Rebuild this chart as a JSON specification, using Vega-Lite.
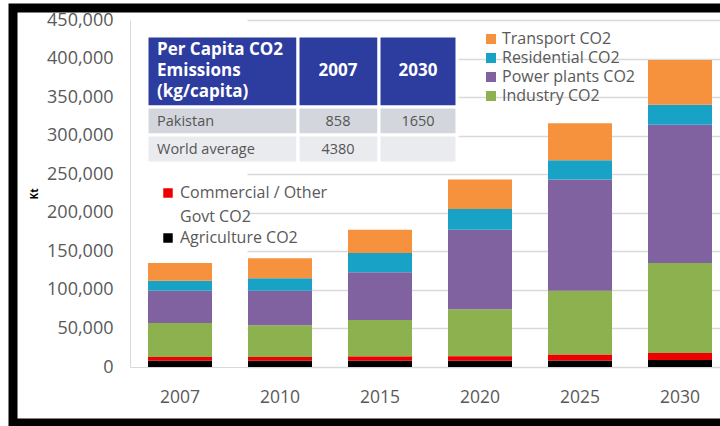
{
  "$schema": "https://vega.github.io/schema/vega-lite/v6.json",
  "autosize": {"type": "none"},
  "width": 707,
  "height": 415,
  "padding": {"left": 13, "top": 8, "right": 0, "bottom": 3},
  "background": "white",
  "config": {
    "font": "Open Sans",
    "view": {"fill": "white", "stroke": "black", "strokeWidth": 9, "strokeDash": [707, 415, 1200]},
    "style": {"guide-label": {"lineHeight": 24}}
  },
  "datasets": {
    "emissions": [
      {"year": "2007", "sector": "Agriculture CO2", "value": 8000},
      {"year": "2007", "sector": "Commercial / Other Govt CO2", "value": 5000},
      {"year": "2007", "sector": "Industry CO2", "value": 44000},
      {"year": "2007", "sector": "Power plants CO2", "value": 42000},
      {"year": "2007", "sector": "Residential CO2", "value": 13000},
      {"year": "2007", "sector": "Transport CO2", "value": 23000},
      {"year": "2010", "sector": "Agriculture CO2", "value": 8000},
      {"year": "2010", "sector": "Commercial / Other Govt CO2", "value": 5000},
      {"year": "2010", "sector": "Industry CO2", "value": 41000},
      {"year": "2010", "sector": "Power plants CO2", "value": 45000},
      {"year": "2010", "sector": "Residential CO2", "value": 16000},
      {"year": "2010", "sector": "Transport CO2", "value": 26000},
      {"year": "2015", "sector": "Agriculture CO2", "value": 8000},
      {"year": "2015", "sector": "Commercial / Other Govt CO2", "value": 5500},
      {"year": "2015", "sector": "Industry CO2", "value": 47500},
      {"year": "2015", "sector": "Power plants CO2", "value": 62000},
      {"year": "2015", "sector": "Residential CO2", "value": 25000},
      {"year": "2015", "sector": "Transport CO2", "value": 30000},
      {"year": "2020", "sector": "Agriculture CO2", "value": 8000},
      {"year": "2020", "sector": "Commercial / Other Govt CO2", "value": 6000},
      {"year": "2020", "sector": "Industry CO2", "value": 61000},
      {"year": "2020", "sector": "Power plants CO2", "value": 103000},
      {"year": "2020", "sector": "Residential CO2", "value": 27000},
      {"year": "2020", "sector": "Transport CO2", "value": 38000},
      {"year": "2025", "sector": "Agriculture CO2", "value": 8500},
      {"year": "2025", "sector": "Commercial / Other Govt CO2", "value": 7500},
      {"year": "2025", "sector": "Industry CO2", "value": 83000},
      {"year": "2025", "sector": "Power plants CO2", "value": 144000},
      {"year": "2025", "sector": "Residential CO2", "value": 25000},
      {"year": "2025", "sector": "Transport CO2", "value": 48000},
      {"year": "2030", "sector": "Agriculture CO2", "value": 9000},
      {"year": "2030", "sector": "Commercial / Other Govt CO2", "value": 9000},
      {"year": "2030", "sector": "Industry CO2", "value": 117000},
      {"year": "2030", "sector": "Power plants CO2", "value": 179000},
      {"year": "2030", "sector": "Residential CO2", "value": 26000},
      {"year": "2030", "sector": "Transport CO2", "value": 58000}
    ],
    "table": [
      {"row": "header", "c0": 0, "c1": 1, "r0": 0, "r1": 1, "text": "Per Capita CO2\nEmissions\n(kg/capita)"},
      {"row": "header", "c0": 1, "c1": 2, "r0": 0, "r1": 1, "text": "2007"},
      {"row": "header", "c0": 2, "c1": 3, "r0": 0, "r1": 1, "text": "2030"},
      {"row": "Pakistan", "c0": 0, "c1": 1, "r0": 1, "r1": 2, "text": "Pakistan"},
      {"row": "Pakistan", "c0": 1, "c1": 2, "r0": 1, "r1": 2, "text": "858"},
      {"row": "Pakistan", "c0": 2, "c1": 3, "r0": 1, "r1": 2, "text": "1650"},
      {"row": "World average", "c0": 0, "c1": 1, "r0": 2, "r1": 3, "text": "World average"},
      {"row": "World average", "c0": 1, "c1": 2, "r0": 2, "r1": 3, "text": "4380"},
      {"row": "World average", "c0": 2, "c1": 3, "r0": 2, "r1": 3, "text": ""}
    ]
  },
  "layer": [
    {
      "data": {"name": "emissions"},
      "transform": [
        {"stack": "value", "groupby": ["year"], "sort": [{"field": "sector", "order": "ascending"}], "as": ["v0", "v1"]},
        {"filter": {"field": "sector", "oneOf": ["Industry CO2", "Power plants CO2", "Residential CO2", "Transport CO2"]}}
      ],
      "mark": {"type": "bar"},
      "encoding": {
        "x": {
          "field": "year", "type": "ordinal",
          "scale": {"domain": ["2007", "2010", "2015", "2020", "2025", "2030"], "range": [117, 717], "paddingInner": 0.36, "paddingOuter": 0.18},
          "axis": {"orient": "bottom", "offset": -56, "title": null, "ticks": false, "labelPadding": 21, "labelFontSize": 17.5, "labelColor": "#595959", "domainColor": "#d9d9d9", "labelAngle": 0, "grid": false}
        },
        "y": {
          "field": "v1", "type": "quantitative",
          "scale": {"domain": [0, 450000], "range": [359, 12], "nice": false},
          "axis": {
            "orient": "left", "offset": -117,
            "values": [0, 50000, 100000, 150000, 200000, 250000, 300000, 350000, 400000, 450000],
            "format": ",.0f", "title": "Kt", "titleFontSize": 10, "titleFontWeight": "bold", "titleColor": "#000000", "titlePadding": 7,
            "labelPadding": 17, "labelFontSize": 18, "labelColor": "#595959", "ticks": false,
            "domainColor": "#d9d9d9", "grid": true, "gridColor": "#d9d9d9", "gridWidth": 1.5, "gridDash": [0, 117, 800]
          }
        },
        "y2": {"field": "v0"},
        "color": {
          "field": "sector", "type": "nominal",
          "scale": {"domain": ["Transport CO2", "Residential CO2", "Power plants CO2", "Industry CO2"], "range": ["#F6913E", "#18A3C6", "#8062A0", "#8CB14E"]},
          "legend": {"orient": "none", "legendX": 470, "legendY": 23, "title": null, "symbolType": "square", "symbolSize": 100, "symbolStrokeWidth": 0, "labelFontSize": 16, "labelColor": "#595959", "rowPadding": 3, "labelOffset": 3, "padding": 0}
        }
      }
    },
    {
      "data": {"name": "emissions"},
      "transform": [
        {"stack": "value", "groupby": ["year"], "sort": [{"field": "sector", "order": "ascending"}], "as": ["v0", "v1"]},
        {"filter": {"field": "sector", "oneOf": ["Agriculture CO2", "Commercial / Other Govt CO2"]}}
      ],
      "mark": {"type": "bar"},
      "encoding": {
        "x": {
          "field": "year", "type": "ordinal",
          "scale": {"domain": ["2007", "2010", "2015", "2020", "2025", "2030"], "range": [117, 717], "paddingInner": 0.36, "paddingOuter": 0.18},
          "axis": null
        },
        "y": {"field": "v1", "type": "quantitative", "scale": {"domain": [0, 450000], "range": [359, 12], "nice": false}, "axis": null},
        "y2": {"field": "v0"},
        "color": {
          "field": "sector", "type": "nominal",
          "scale": {"domain": ["Commercial / Other Govt CO2", "Agriculture CO2"], "range": ["#EE0000", "#000000"]},
          "legend": {"orient": "none", "legendX": 147, "legendY": 177, "title": null, "symbolType": "square", "symbolSize": 90, "symbolStrokeWidth": 0, "labelFontSize": 16, "labelColor": "#595959", "rowPadding": 5, "labelOffset": 4, "padding": 0,
            "labelExpr": "datum.label == 'Commercial / Other Govt CO2' ? ['Commercial / Other', 'Govt CO2'] : datum.label"}
        }
      }
    },
    {
      "data": {"name": "table"},
      "mark": {"type": "rect", "stroke": "white", "strokeWidth": 3},
      "encoding": {
        "x": {"field": "c0", "type": "quantitative", "scale": {"domain": [0, 1, 2, 3], "range": [134, 285, 366, 444], "nice": false, "zero": false}, "axis": null},
        "x2": {"field": "c1"},
        "y": {"field": "r0", "type": "quantitative", "scale": {"domain": [0, 1, 2, 3], "range": [28, 99, 127, 155], "nice": false, "zero": false}, "axis": null},
        "y2": {"field": "r1"},
        "color": {"field": "row", "type": "nominal", "scale": {"domain": ["header", "Pakistan", "World average"], "range": ["#2D3C9F", "#D3D6DC", "#EAEBEF"]}, "legend": null}
      }
    },
    {
      "data": {"name": "table"},
      "mark": {
        "type": "text", "lineBreak": "\n", "lineHeight": 21, "baseline": "middle",
        "align": {"expr": "datum.c0 === 0 ? 'left' : 'center'"},
        "dy": {"expr": "datum.row === 'header' && datum.c0 === 0 ? -21 : 0"},
        "fontSize": {"expr": "datum.row === 'header' ? 17 : 14.5"},
        "fontWeight": {"expr": "datum.row === 'header' ? 'bold' : 'normal'"}
      },
      "encoding": {
        "x": {"field": "c0", "type": "quantitative", "scale": {"domain": [0, 1, 2], "range": [144, 325, 405], "nice": false, "zero": false}, "axis": null},
        "y": {"field": "r0", "type": "quantitative", "scale": {"domain": [0, 1, 2], "range": [63, 114, 142], "nice": false, "zero": false}, "axis": null},
        "text": {"field": "text", "type": "nominal"},
        "color": {"field": "row", "type": "nominal", "scale": {"domain": ["header", "Pakistan", "World average"], "range": ["#FFFFFF", "#555555", "#555555"]}, "legend": null}
      }
    }
  ],
  "resolve": {"scale": {"x": "independent", "y": "independent", "color": "independent"}}
}
